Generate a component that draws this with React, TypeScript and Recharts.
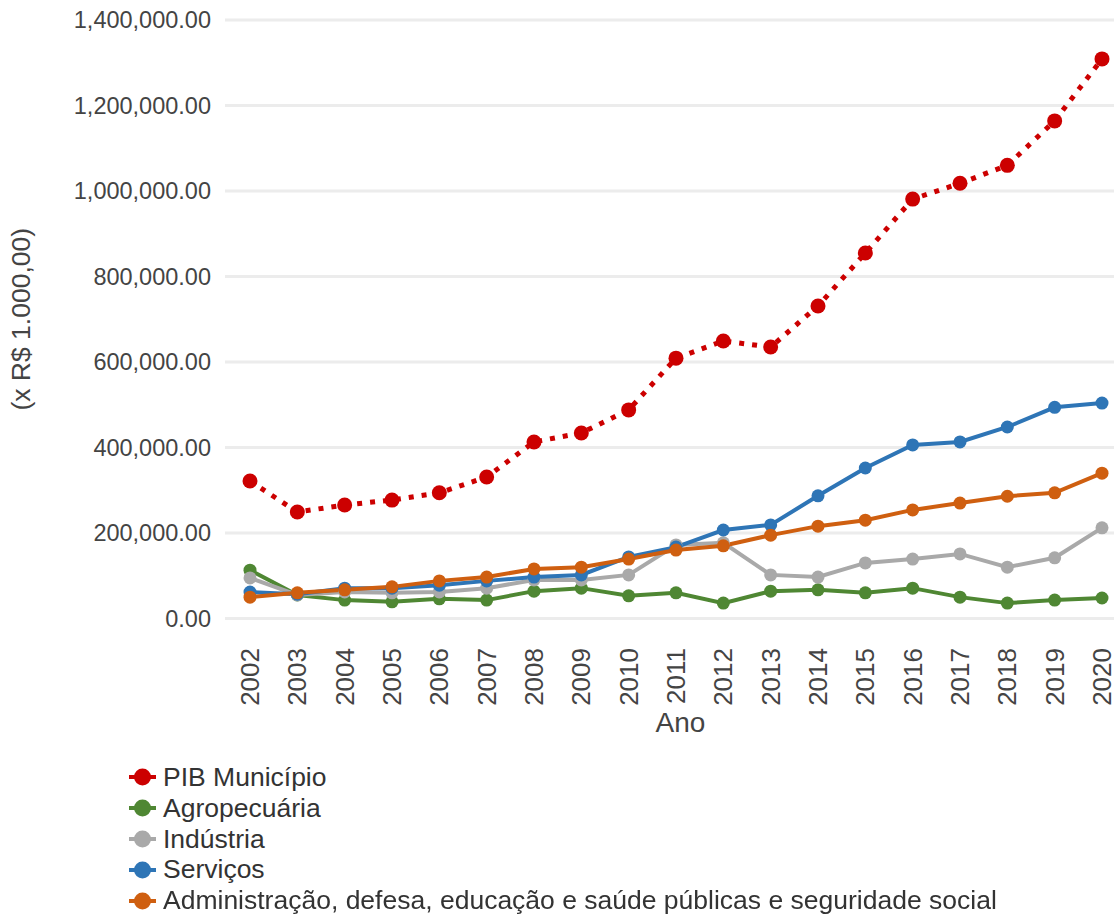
import { LineChart, Line, XAxis, YAxis, CartesianGrid, Legend } from "recharts";

const years = [
  "2002", "2003", "2004", "2005", "2006", "2007", "2008", "2009", "2010", "2011",
  "2012", "2013", "2014", "2015", "2016", "2017", "2018", "2019", "2020",
];

// valores em milhares de reais
const pibMunicipio = [
  321600, 249000, 265500, 277000, 294000, 331000, 413000, 434000, 488000, 609000,
  649000, 635000, 731000, 855000, 981000, 1018000, 1060000, 1164000, 1309000,
];
const agropecuaria = [
  113000, 55000, 43000, 39000, 46000, 43000, 64000, 71000, 53000, 60000,
  36000, 64000, 67000, 60000, 71000, 50000, 36000, 43000, 48000,
];
const industria = [
  95000, 55000, 62000, 60000, 62000, 71000, 90000, 90000, 102000, 172000,
  177000, 102000, 97000, 130000, 139000, 151000, 120000, 142000, 212000,
];
const servicos = [
  62000, 57000, 71000, 71000, 78000, 88000, 97000, 102000, 144000, 167000,
  207000, 219000, 287000, 352000, 406000, 413000, 448000, 494000, 504000,
];
const administracao = [
  50000, 60000, 67000, 74000, 88000, 97000, 116000, 120000, 139000, 160000,
  170000, 195000, 216000, 230000, 254000, 270000, 286000, 294000, 340000,
];

const yTicks = [0, 200000, 400000, 600000, 800000, 1000000, 1200000, 1400000];

const series = [
  { key: "pib", name: "PIB Município", values: pibMunicipio, color: "#cc0000", dash: "5 8", width: 5, r: 7.5 },
  { key: "agro", name: "Agropecuária", values: agropecuaria, color: "#4f8733", dash: undefined, width: 4, r: 6.5 },
  { key: "ind", name: "Indústria", values: industria, color: "#a9a9a9", dash: undefined, width: 4, r: 6.5 },
  { key: "serv", name: "Serviços", values: servicos, color: "#2e75b6", dash: undefined, width: 4, r: 6.5 },
  {
    key: "adm",
    name: "Administração, defesa, educação e saúde públicas e seguridade social",
    values: administracao,
    color: "#cf5f10",
    dash: undefined,
    width: 4,
    r: 6.5,
  },
];

const data = years.map((ano, i) => {
  const row: Record<string, string | number> = { ano };
  series.forEach((s) => {
    row[s.key] = s.values[i];
  });
  return row;
});

const FONT = "'Liberation Sans', Arial, sans-serif";

const formatValue = (v: number) =>
  v.toLocaleString("en-US", { minimumFractionDigits: 2, maximumFractionDigits: 2 });

function YearTick(props: any) {
  const { x, y, payload } = props;
  return (
    <g transform={`translate(${x},${y})`}>
      <text
        transform="rotate(-90)"
        textAnchor="end"
        dy="0.34em"
        fontSize={26}
        fontFamily={FONT}
        fill="#444"
      >
        {payload.value}
      </text>
    </g>
  );
}

function LegendBlock() {
  return (
    <div style={{ height: 152, paddingLeft: 129, fontFamily: FONT, fontSize: 26.5, color: "#333" }}>
      {series.map((s) => (
        <div key={s.key} style={{ display: "flex", alignItems: "center", height: 30.8 }}>
          <svg width={27} height={20} style={{ marginRight: 7 }}>
            <line x1={0} y1={10} x2={27} y2={10} stroke={s.color} strokeWidth={4} />
            <circle cx={13.5} cy={10} r={8.5} fill={s.color} />
          </svg>
          <span style={{ whiteSpace: "nowrap" }}>{s.name}</span>
        </div>
      ))}
    </div>
  );
}

export default function App() {
  return (
    <div style={{ position: "fixed", left: 0, top: 0, background: "#fff" }}>
      <LineChart width={1114} height={914} data={data} margin={{ top: 20, right: 0, bottom: 0, left: 0 }}>
        <CartesianGrid vertical={false} stroke="#ececec" strokeWidth={3} />
        <XAxis
          dataKey="ano"
          height={143.5}
          padding={{ left: 25, right: 12 }}
          axisLine={false}
          tickLine={false}
          tickSize={0}
          tickMargin={29.5}
          interval={0}
          tick={<YearTick />}
          label={{
            value: "Ano",
            position: "insideTop",
            offset: 94,
            dx: 11,
            fontSize: 28,
            fontFamily: FONT,
            fill: "#444",
          }}
        />
        <YAxis
          width={225}
          domain={[0, 1400000]}
          ticks={yTicks}
          axisLine={false}
          tickLine={false}
          tickSize={0}
          tickMargin={14}
          tickFormatter={formatValue}
          tick={{ fontSize: 23.5, fontFamily: FONT, fill: "#444" }}
          label={{
            value: "(x R$ 1.000,00)",
            angle: -90,
            position: "insideLeft",
            offset: 21,
            style: { textAnchor: "middle" },
            fontSize: 26.5,
            fontFamily: FONT,
            fill: "#444",
          }}
        />
        <Legend
          verticalAlign="bottom"
          content={() => <LegendBlock />}
          wrapperStyle={{ left: 0, top: 762, bottom: "auto", width: 1114 }}
        />
        {series.map((s) => (
          <Line
            key={s.key}
            type="linear"
            dataKey={s.key}
            name={s.name}
            stroke={s.color}
            strokeWidth={s.width}
            strokeDasharray={s.dash}
            dot={{ r: s.r, fill: s.color, stroke: s.color, strokeWidth: 0, strokeDasharray: "" }}
            activeDot={false}
            isAnimationActive={false}
          />
        ))}
      </LineChart>
    </div>
  );
}
